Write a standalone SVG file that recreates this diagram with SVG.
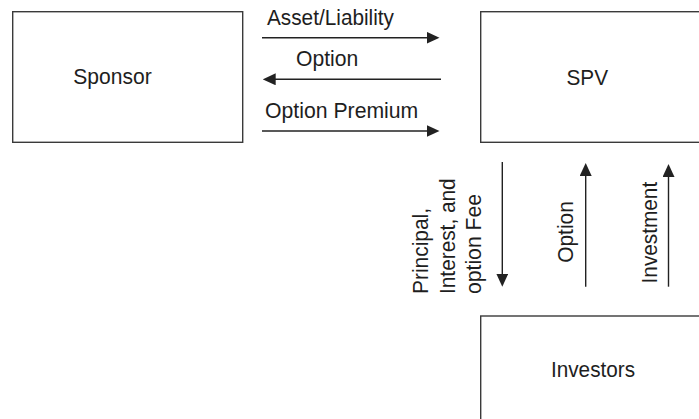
<svg xmlns="http://www.w3.org/2000/svg" width="699" height="419" viewBox="0 0 699 419">
  <style>
    .box { fill: #ffffff; stroke: #3a3a3a; stroke-width: 1.4; }
    .lbl { font-family: "Liberation Sans", Arial, sans-serif; font-size: 22px; fill: #1e1e1e; }
    .conn { stroke: #222222; stroke-width: 1.4; fill: none; marker-end: url(#arrow); }
  </style>
  <defs>
    <marker id="arrow" viewBox="0 0 13 12" refX="8" refY="6" markerWidth="13" markerHeight="12" markerUnits="userSpaceOnUse" orient="auto">
      <path d="M0,0 L13,6 L0,12 Z" fill="#222222"/>
    </marker>
  </defs>
  <rect width="699" height="419" fill="#ffffff"/>

  <g id="sponsor">
    <rect class="box" x="12.7" y="11.7" width="230" height="130.6"/>
    <text class="lbl" x="73.3" y="84.3" textLength="78.4" lengthAdjust="spacingAndGlyphs">Sponsor</text>
  </g>

  <g id="spv">
    <rect class="box" x="480.7" y="11.7" width="230" height="130.6"/>
    <text class="lbl" x="566.5" y="84.5" textLength="41.6" lengthAdjust="spacingAndGlyphs">SPV</text>
  </g>

  <g id="investors">
    <rect class="box" x="480.7" y="316" width="230" height="130.6"/>
    <text class="lbl" x="551" y="377.4" textLength="84" lengthAdjust="spacingAndGlyphs">Investors</text>
  </g>

  <g id="connectors">
    <line class="conn" x1="262" y1="37.7" x2="434.5" y2="37.7"/>
    <line class="conn" x1="441" y1="79.3" x2="267.7" y2="79.3"/>
    <line class="conn" x1="262" y1="131" x2="434.5" y2="131"/>
    <line class="conn" x1="502.3" y1="162" x2="502.3" y2="281.7"/>
    <line class="conn" x1="585.7" y1="286.7" x2="585.7" y2="168"/>
    <line class="conn" x1="668.5" y1="286.7" x2="668.5" y2="169"/>
  </g>

  <g id="connector-labels">
    <text class="lbl" x="267" y="25" textLength="127" lengthAdjust="spacingAndGlyphs">Asset/Liability</text>
    <text class="lbl" x="296" y="66" textLength="62.3" lengthAdjust="spacingAndGlyphs">Option</text>
    <text class="lbl" x="265" y="118.3" textLength="153.3" lengthAdjust="spacingAndGlyphs">Option Premium</text>
    <text class="lbl" transform="translate(428,294) rotate(-90)" textLength="86" lengthAdjust="spacingAndGlyphs">Principal,</text>
    <text class="lbl" transform="translate(455,294) rotate(-90)" textLength="115.7" lengthAdjust="spacingAndGlyphs">Interest, and</text>
    <text class="lbl" transform="translate(480.5,294) rotate(-90)" textLength="100" lengthAdjust="spacingAndGlyphs">option Fee</text>
    <text class="lbl" transform="translate(573,262.8) rotate(-90)" textLength="61.6" lengthAdjust="spacingAndGlyphs">Option</text>
    <text class="lbl" transform="translate(657,283.4) rotate(-90)" textLength="101.6" lengthAdjust="spacingAndGlyphs">Investment</text>
  </g>
</svg>
